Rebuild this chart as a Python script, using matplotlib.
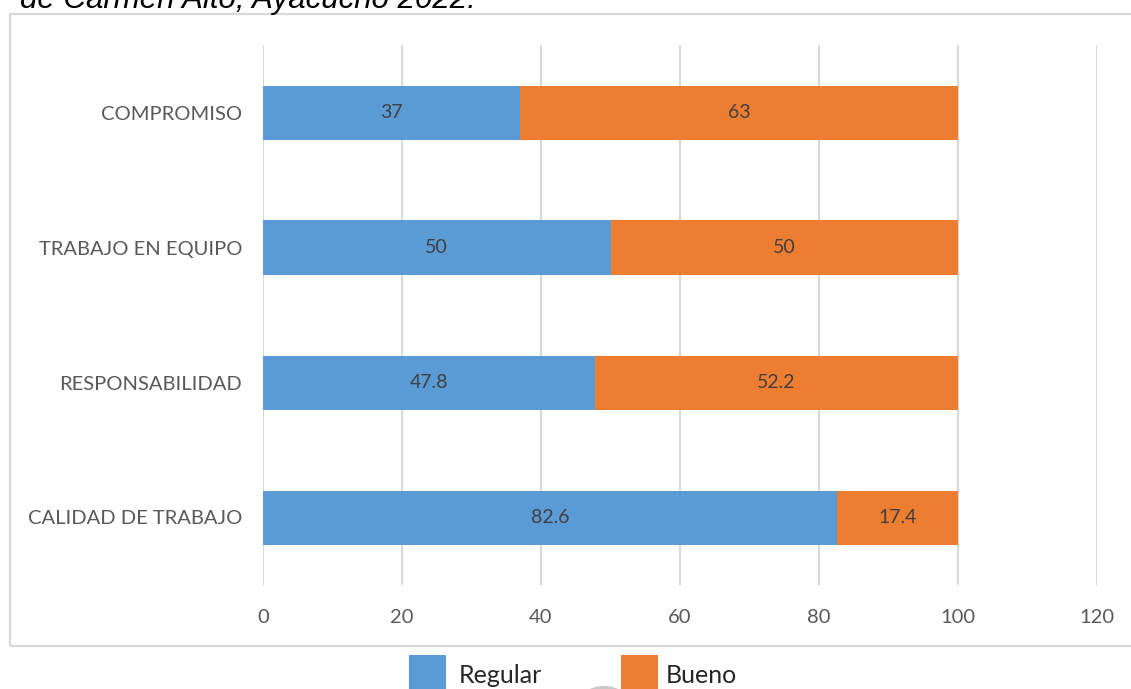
import matplotlib
matplotlib.use("Agg")
import matplotlib.pyplot as plt
from matplotlib.patches import Rectangle, Circle

categories = ["CALIDAD DE TRABAJO", "RESPONSABILIDAD", "TRABAJO EN EQUIPO", "COMPROMISO"]
regular = [82.6, 47.8, 50, 37]
bueno = [17.4, 52.2, 50, 63]
series_names = ["Regular", "Bueno"]
xticks = [0, 20, 40, 60, 80, 100, 120]
title_text = "de Carmen Alto, Ayacucho 2022."

BLUE = "#5B9BD5"
ORANGE = "#ED7D31"
FONT = "Lato"

W, H = 1131, 689
fig = plt.figure(figsize=(W / 100, H / 100), dpi=100)

def fx(px):
    return px / W

def fy(py):
    return 1 - py / H

# outer border
fig.patches.append(Rectangle((fx(10), fy(646)), fx(1135 - 10), (646 - 14) / H,
                             transform=fig.transFigure, fill=False,
                             edgecolor="#d9d9d9", linewidth=1.6))

# title fragment (cut off at top)
fig.text(fx(20), fy(8), title_text, fontsize=22.5, style="italic",
         family="Liberation Sans", color="black", va="baseline", ha="left")

ax = fig.add_axes([fx(263), fy(585), fx(1097 - 263), (585 - 45) / H])
y = list(range(len(categories)))
h = 0.4
b1 = ax.barh(y, regular, height=h, color=BLUE, label=series_names[0])
b2 = ax.barh(y, bueno, left=regular, height=h, color=ORANGE, label=series_names[1])

for vals, lefts in ((regular, [0] * 4), (bueno, regular)):
    for yi, v, l in zip(y, vals, lefts):
        ax.text(l + v / 2, yi, f"{v:g}", ha="center", va="center",
                fontsize=14, color="#404040", family=FONT)

ax.set_xlim(0, 120)
ax.set_ylim(-0.5, 3.5)
ax.set_xticks(xticks)
ax.set_xticklabels([str(t) for t in xticks], fontsize=14.5, color="#595959", family=FONT)
ax.set_yticks(y)
ax.set_yticklabels(categories, fontsize=14.5, color="#595959", family=FONT)
ax.tick_params(axis="both", length=0)
ax.tick_params(axis="x", pad=17)
ax.tick_params(axis="y", pad=15)
ax.xaxis.grid(True, color="#d9d9d9", linewidth=1.5)
ax.set_axisbelow(True)
for s in ax.spines.values():
    s.set_visible(False)

# legend (bottom, partly cut off by the figure edge)
leg_items = [(409, BLUE, 459, series_names[0]), (621, ORANGE, 666, series_names[1])]
for sx, col, tx, name in leg_items:
    fig.patches.append(Rectangle((fx(sx), fy(695)), fx(37), 40 / H,
                                 transform=fig.transFigure, facecolor=col,
                                 edgecolor="none"))
    fig.text(fx(tx), fy(683), name, fontsize=18, family=FONT,
             color="#262626", va="baseline", ha="left")

# small grey artefact partially visible at bottom
fig.patches.append(Circle((fx(604), fy(700)), 14 / H, transform=fig.transFigure,
                          facecolor="#c8c8c8", edgecolor="none"))

fig.savefig("out.png", dpi=100)
